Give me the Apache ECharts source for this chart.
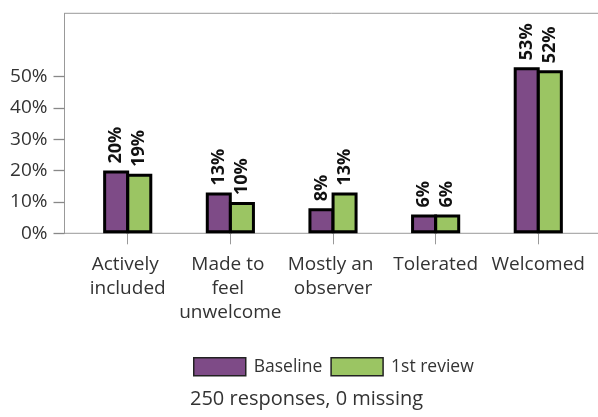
<!DOCTYPE html>
<html><head><meta charset="utf-8">
<script src="https://cdn.jsdelivr.net/npm/echarts@6/dist/echarts.min.js"></script>
<style>html,body{margin:0;padding:0;background:#fff}#c{width:598px;height:417px}</style>
</head><body><div id="c"></div>
<script>
const categories = ['Actively included', 'Made to feel unwelcome', 'Mostly an observer', 'Tolerated', 'Welcomed'];
const baseline = [20, 13, 8, 6, 53];
const firstReview = [19, 10, 13, 6, 52];
const seriesNames = ['Baseline', '1st review'];
const yTicks = [0, 10, 20, 30, 40, 50];
const caption = '250 responses, 0 missing';

const FONT = '"Open Sans", sans-serif';
const TXT = '#333';
const GRAY = '#999';
const YMAX = 70.2;
const TOP = 13.3, BOTTOM = 183.7;

const chart = echarts.init(document.getElementById('c'), null, {renderer: 'canvas'});
const lbl = {
  show: true, position: 'top', rotate: 90, align: 'left', verticalAlign: 'middle',
  distance: 7, formatter: p => p.value + '%', fontFamily: FONT, fontWeight: 'bold',
  fontSize: 18, color: '#111'
};
chart.setOption({
  animation: false,
  textStyle: {fontFamily: FONT},
  title: {text: caption, left: 185, top: 384, textStyle: {fontFamily: FONT, fontSize: 20, fontWeight: 'normal', color: TXT}},
  legend: {
    data: seriesNames, left: 188, top: 352, itemWidth: 52, itemHeight: 18, itemGap: 8,
    icon: 'rect', itemStyle: {borderWidth: 1.5, borderColor: '#222'},
    textStyle: {fontFamily: FONT, fontSize: 17.5, color: TXT, padding: [0, 0, 0, 3]}
  },
  grid: [
    {left: 76.4, right: 8.4, top: TOP, bottom: BOTTOM, show: false, outerBoundsMode: 'none', containLabel: false},
    {left: 64.5, right: -30, top: TOP, bottom: BOTTOM, show: true, borderColor: GRAY, borderWidth: 1, backgroundColor: 'transparent', outerBoundsMode: 'none', containLabel: false}
  ],
  xAxis: [
    {type: 'category', gridIndex: 0, data: categories,
      axisLine: {show: false},
      axisTick: {show: true, alignWithLabel: true, length: 11, lineStyle: {color: GRAY}},
      axisLabel: {fontFamily: FONT, fontSize: 19, color: TXT, margin: 19, lineHeight: 24, width: 107, overflow: 'break', interval: 0}
    },
    {type: 'value', gridIndex: 1, show: false, min: 0, max: 1}
  ],
  yAxis: [
    {type: 'value', gridIndex: 0, min: 0, max: YMAX, show: false, splitLine: {show: false}},
    {type: 'value', gridIndex: 1, min: 0, max: YMAX, splitLine: {show: false},
      axisLine: {show: true, onZero: false, lineStyle: {color: GRAY}},
      axisTick: {show: true, length: 11, lineStyle: {color: '#888', width: 1.3}, customValues: yTicks},
      axisLabel: {fontFamily: FONT, fontSize: 19, color: TXT, margin: 17, formatter: v => v + '%', customValues: yTicks}
    }
  ],
  series: [
    {name: seriesNames[0], type: 'bar', xAxisIndex: 0, yAxisIndex: 0, data: baseline, barWidth: 26, barGap: '-11%',
      itemStyle: {color: '#7E4B87', borderColor: '#000', borderWidth: 3}, label: lbl},
    {name: seriesNames[1], type: 'bar', xAxisIndex: 0, yAxisIndex: 0, data: firstReview, barWidth: 26, barGap: '-11%',
      itemStyle: {color: '#9BC563', borderColor: '#000', borderWidth: 3}, label: lbl}
  ]
});
</script></body></html>
